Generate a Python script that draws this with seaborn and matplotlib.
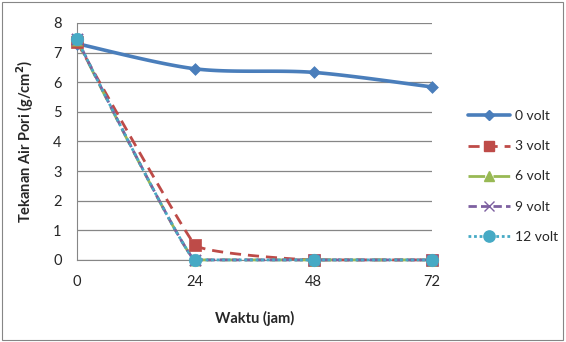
import numpy as np
import matplotlib.pyplot as plt
import seaborn as sns
import pandas as pd
from matplotlib.lines import Line2D
from matplotlib.patches import Rectangle

sns.set_style('white')
plt.rcParams['font.family'] = ['Lato', 'DejaVu Sans']

# data
waktu = [0, 24, 48, 72]
v0 = [7.3, 6.45, 6.33, 5.84]
v3 = [7.35, 0.5, 0.0, 0.0]
v6 = [7.42, 0.0, 0.0, 0.0]
v9 = [7.45, 0.0, 0.0, 0.0]
v12 = [7.45, 0.0, 0.0, 0.0]
labels = ['0 volt', '3 volt', '6 volt', '9 volt', '12 volt']

colors = ['#4A7EBB', '#BE4B48', '#98B954', '#7D60A0', '#46AAC5']
styles = ['-', (0, (4, 2.5)), (0, (6, 3)), (0, (3, 1.5)), (0, (1, 1))]
markers = ['D', 's', '^', 'x', 'o']
msizes = [6, 8, 8, 8, 9]

df = pd.DataFrame({'waktu': waktu * 5,
                   'nilai': v0 + v3 + v6 + v9 + v12,
                   'seri': np.repeat(labels, len(waktu))})


def smooth(x, y, n=40, tension=0.3):
    # smoothed line through the points, y-tangent flattened at turns (no overshoot)
    p = np.column_stack([x, y]).astype(float)
    k = len(p)
    m = np.zeros_like(p)
    for i in range(k):
        a = p[max(i - 1, 0)]
        b = p[min(i + 1, k - 1)]
        m[i] = tension * (b - a)
        if 0 < i < k - 1 and (p[i, 1] - a[1]) * (b[1] - p[i, 1]) <= 0:
            m[i, 1] = 0
    t = np.linspace(0, 1, n)[:, None]
    h00 = 2 * t ** 3 - 3 * t ** 2 + 1
    h10 = t ** 3 - 2 * t ** 2 + t
    h01 = -2 * t ** 3 + 3 * t ** 2
    h11 = t ** 3 - t ** 2
    out = [h00 * p[i] + h10 * m[i] + h01 * p[i + 1] + h11 * m[i + 1] for i in range(k - 1)]
    out = np.vstack(out)
    return out[:, 0], out[:, 1]


fig = plt.figure(figsize=(5.66, 3.42), dpi=100)
ax = fig.add_axes([0.136, 0.240, 0.627, 0.693])

handles = []
for i, lab in enumerate(labels):
    sub = df[df['seri'] == lab]
    sx, sy = smooth(sub['waktu'].values, sub['nilai'].values,
                    tension=0.45 if i == 0 else 0.12)
    lw = 2.6 if i == 0 else 2.0
    ax.plot(sx, sy, color=colors[i], linestyle=styles[i], lw=lw, zorder=3 + i * 0.1,
            clip_on=False)
    sns.scatterplot(data=sub, x='waktu', y='nilai', ax=ax, marker=markers[i],
                    s=msizes[i] ** 2, color=colors[i], edgecolor=colors[i],
                    linewidth=1.5 if markers[i] == 'x' else 0.5, zorder=4 + i * 0.1,
                    legend=False, clip_on=False)
    handles.append(Line2D([0], [0], color=colors[i], linestyle=styles[i], lw=lw,
                          marker=markers[i], markersize=msizes[i] * 0.9,
                          markeredgecolor=colors[i], markerfacecolor=colors[i]))

ax.set_xlim(0, 72)
ax.set_ylim(0, 8)
ax.set_xticks(waktu)
ax.set_yticks(range(0, 9))
ax.grid(axis='y', color='#868686', lw=0.9)
for s in ['top', 'right']:
    ax.spines[s].set_visible(False)
for s in ['left', 'bottom']:
    ax.spines[s].set_color('#868686')
ax.tick_params(axis='both', labelsize=10.5, length=4, color='#868686', direction='out', pad=7)
ax.set_xlabel('Waktu (jam)', fontsize=10.5, fontweight='bold', labelpad=16)
ax.set_ylabel('Tekanan Air Pori (g/cm$^{\\mathbf{2}}$)', fontsize=10.5, fontweight='bold', labelpad=12)

fig.legend(handles, labels, loc='center left', bbox_to_anchor=(0.805, 0.484),
           frameon=False, fontsize=10, handlelength=3.0, labelspacing=1.3, handletextpad=0.4)

fig.patches.append(Rectangle((0.003, 0.005), 0.992, 0.99, transform=fig.transFigure,
                             fill=False, edgecolor='#868686', lw=0.8))

fig.savefig('out.png', dpi=100)
